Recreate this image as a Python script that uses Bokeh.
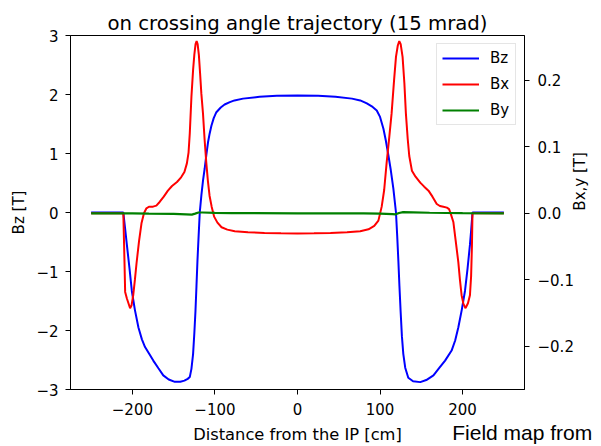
import math

from bokeh.plotting import figure
from bokeh.models import (Range1d, LinearAxis, FixedTicker, CustomJSTickFormatter,
                          Legend, LegendItem)
from bokeh.embed import file_html
from bokeh.resources import INLINE

# Longitudinal field Bz [T] along the trajectory
bz_pos = [-250, -211, -209, -206.7, -203.5, -200.7, -197, -192.7, -188.5, -184.7,
          -179.5, -174.7, -168.5, -162.6, -156, -148.6, -142, -137, -133, -130.5,
          -128.5, -126.5, -125, -123.6, -122.4, -121.2, -119.8, -118.4, -116.4,
          -114.4, -112.4, -110.4, -108.4, -106.4, -104.3, -101.5, -98.3, -93, -88.3,
          -82, -76.3, -66, -46, -25, 0,
          25, 46, 66, 76, 84, 90, 96, 100, 104.1, 107, 110.1, 113, 116.1, 119.3,
          120.8, 122.2, 123.5, 124.9, 126.5, 128.2, 130.5, 134.2, 140, 148.7, 156,
          164.7, 172, 178.8, 186.7, 191, 194.8, 199, 202.9, 206, 208.9, 210.5, 212, 250]
bz_val = [0, 0, -0.25, -0.55, -0.95, -1.33, -1.65, -1.95, -2.15, -2.28,
          -2.40, -2.51, -2.64, -2.76, -2.83, -2.87, -2.87, -2.85, -2.82, -2.79,
          -2.65, -2.40, -2.05, -1.67, -1.25, -0.82, -0.40, 0.0, 0.30,
          0.55, 0.75, 0.98, 1.19, 1.34, 1.47, 1.60, 1.70, 1.78, 1.83,
          1.87, 1.90, 1.93, 1.96, 1.978, 1.985,
          1.978, 1.96, 1.93, 1.90, 1.85, 1.80, 1.73, 1.62, 1.42, 1.22, 0.97, 0.72, 0.41, 0.0,
          -0.40, -0.82, -1.25, -1.67, -2.10, -2.40, -2.63, -2.80, -2.86, -2.875, -2.84,
          -2.76, -2.63, -2.51, -2.34, -2.17, -1.95, -1.65, -1.33, -0.95, -0.55, -0.28, 0, 0]

# Horizontal field Bx [T]
bx_pos = [-250, -211, -209.6, -208.8, -206.7, -202.8, -201, -199, -197, -195, -192,
          -189, -186, -183, -180, -175, -171, -167, -162, -157, -152, -146, -141,
          -137, -134, -132, -130.5, -128.5, -126.5, -125, -123.5, -122.2, -121,
          -119.5, -118, -116.5, -114.5, -112.5, -110.5, -108.5, -106.5, -104, -101,
          -97, -92, -85, -76, -60, -40, -20, 0,
          20, 40, 60, 76, 86, 93, 98, 102, 105, 108, 111, 114, 117, 119.3, 121.5,
          123.3, 125, 127.3, 129.5, 131.3, 133.5, 135.4, 138.6, 143, 148.7, 153.5,
          158.7, 163.5, 168.7, 172.5, 176.7, 181, 183.6, 186, 188.8, 191.5, 194.8,
          196.8, 198.8, 201, 203.6, 206.5, 208.9, 210.3, 211.3, 212, 250]
bx_val = [0, 0, -0.073, -0.118, -0.128, -0.1425, -0.138, -0.123, -0.100, -0.075, -0.042,
          -0.015, 0.0, 0.0075, 0.0098, 0.010, 0.0115, 0.017, 0.025, 0.034, 0.041, 0.047, 0.054,
          0.062, 0.075, 0.091, 0.120, 0.175, 0.215, 0.238, 0.254, 0.2585, 0.254,
          0.238, 0.210, 0.180, 0.150, 0.110, 0.076, 0.048, 0.026, 0.010, -0.005,
          -0.014, -0.021, -0.0245, -0.027, -0.0285, -0.0295, -0.030, -0.0302,
          -0.030, -0.0295, -0.0285, -0.027, -0.024, -0.019, -0.011, 0.010, 0.035, 0.076,
          0.112, 0.150, 0.200, 0.235, 0.252,
          0.2585, 0.254, 0.235, 0.195, 0.150, 0.112, 0.086, 0.064, 0.055, 0.046, 0.040,
          0.034, 0.025, 0.014, 0.011, 0.0098, 0.0085, 0.0064, -0.002, -0.013, -0.040, -0.073,
          -0.100, -0.123, -0.136, -0.1425, -0.135, -0.123, -0.095, -0.050, 0, 0]

# Vertical field By [T]
by_pos = [-250, -200, -180, -150, -135, -128, -124, -120, -115, -100, -80, 0,
          80, 100, 115, 119, 123, 128, 140, 160, 200, 250]
by_val = [0, 0, -0.0005, -0.0008, -0.0015, -0.002, -0.0005, 0.0012, 0.0012, 0.0005, 0.0002, 0,
          -0.0002, -0.0005, -0.0012, -0.0015, 0.0005, 0.0018, 0.0015, 0.0008, 0.0002, 0]

bz_ticks = [-3, -2, -1, 0, 1, 2, 3]
bxy_ticks = [-0.2, -0.1, 0.0, 0.1, 0.2]
x_ticks = [-200, -100, 0, 100, 200]

# footnote under the right-hand corner, placed as a fraction of the frame width
note_text = "Field map from"
note_pos = 0.995
# title of the right-hand scale, centred at this Bx,y value
bxy_title = "Bx,y [T]"
bxy_title_pos = 0.004

FONT = "DejaVu Sans"

p = figure(width=601, height=446, output_backend="svg", toolbar_location=None,
           x_range=Range1d(-275, 275), y_range=Range1d(-3, 3),
           min_border_left=70, min_border_right=74, min_border_top=35,
           min_border_bottom=54, title="on crossing angle trajectory (15 mrad)")
p.extra_y_ranges = {"bxy": Range1d(-0.2646, 0.267)}
p.extra_x_ranges = {"frac": Range1d(0, 1)}

p.title.text_font = FONT
p.title.text_font_size = "19.7px"
p.title.text_font_style = "normal"
p.title.align = "center"
p.title.text_color = "black"
p.title.standoff = 2

p.xgrid.visible = False
p.ygrid.visible = False
p.outline_line_color = "black"
p.outline_line_width = 1
p.background_fill_color = "white"
p.border_fill_color = "white"

right_axis = LinearAxis(y_range_name="bxy")
p.add_layout(right_axis, "right")
right_title_axis = LinearAxis(y_range_name="bxy")
p.add_layout(right_title_axis, "right")

# second row under the distance axis: axis title plus the footnote
note_axis = LinearAxis(x_range_name="frac", axis_label="Distance from the IP [cm]")
p.add_layout(note_axis, "below")

p.xaxis[0].ticker = FixedTicker(ticks=x_ticks)
p.yaxis[0].ticker = FixedTicker(ticks=bz_ticks)
right_axis.ticker = FixedTicker(ticks=bxy_ticks)
right_title_axis.ticker = FixedTicker(ticks=[bxy_title_pos])
note_axis.ticker = FixedTicker(ticks=[note_pos])

p.xaxis[0].formatter = CustomJSTickFormatter(code="return tick.toFixed(0).replace('-', '\\u2212');")
p.yaxis[0].formatter = CustomJSTickFormatter(code="return tick.toFixed(0).replace('-', '\\u2212');")
right_axis.formatter = CustomJSTickFormatter(code="return tick.toFixed(1).replace('-', '\\u2212');")
right_title_axis.formatter = CustomJSTickFormatter(args=dict(txt=bxy_title), code="return txt;")
note_axis.formatter = CustomJSTickFormatter(args=dict(txt=note_text), code="return txt;")

p.yaxis[0].axis_label = "Bz [T]"

for ax in [p.xaxis[0], p.yaxis[0], right_axis, right_title_axis, note_axis]:
    ax.axis_line_color = "black"
    ax.major_tick_line_color = "black"
    ax.major_tick_out = 5
    ax.major_tick_in = 0
    ax.minor_tick_line_color = None
    ax.major_label_text_font = FONT
    ax.major_label_text_font_size = "15px"
    ax.major_label_text_color = "black"
    ax.major_label_standoff = 7
    ax.axis_label_text_font = FONT
    ax.axis_label_text_font_size = "15px"
    ax.axis_label_text_font_style = "normal"
    ax.axis_label_text_color = "black"
    ax.axis_label_standoff = 10

p.xaxis[0].major_label_standoff = 8
p.yaxis[0].axis_label_standoff = 5
right_axis.major_label_standoff = 8

for ax in [right_title_axis, note_axis]:
    ax.axis_line_color = None
    ax.major_tick_line_color = None
    ax.major_tick_out = 0

right_title_axis.major_label_orientation = math.pi / 2
right_title_axis.major_label_standoff = 4

note_axis.major_label_standoff = 3
note_axis.major_label_text_font = "Liberation Sans"
note_axis.major_label_text_font_size = "21px"
note_axis.axis_label_text_font_size = "16.3px"
note_axis.axis_label_standoff = -22

r_bz = p.line(bz_pos, bz_val, line_color="#0000ff", line_width=2)
r_bx = p.line(bx_pos, bx_val, line_color="#ff0000", line_width=2, y_range_name="bxy")
r_by = p.line(by_pos, by_val, line_color="#008000", line_width=2.2, y_range_name="bxy")

legend = Legend(items=[LegendItem(label="Bz", renderers=[r_bz]),
                       LegendItem(label="Bx", renderers=[r_bx]),
                       LegendItem(label="By", renderers=[r_by])],
                location="top_right")
legend.label_text_font = FONT
legend.label_text_font_size = "15px"
legend.label_text_color = "black"
legend.glyph_width = 37
legend.glyph_height = 16
legend.label_height = 16
legend.label_standoff = 11
legend.spacing = 8
legend.padding = 5
legend.margin = 8
legend.border_line_color = "#cccccc"
legend.border_line_width = 1
legend.background_fill_alpha = 0.8
p.add_layout(legend)

open("out.html", "w").write(file_html(p, INLINE))
